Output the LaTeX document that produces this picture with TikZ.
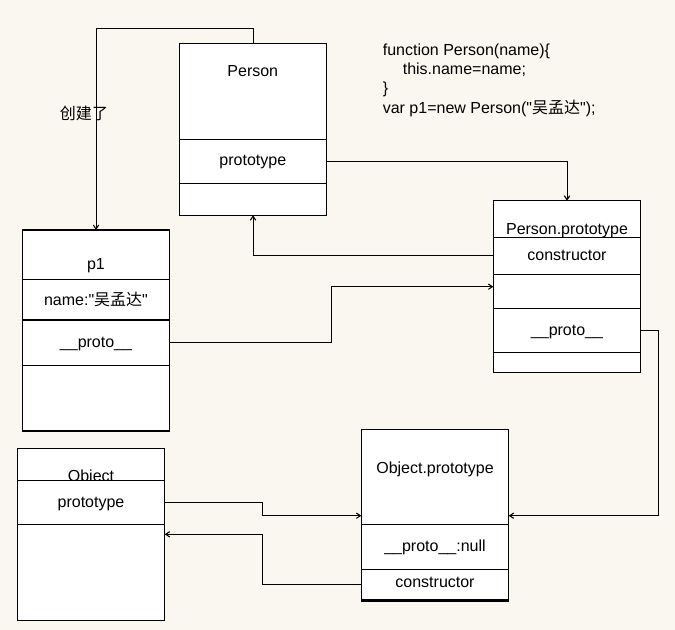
\documentclass[tikz,border=0pt]{standalone}
\usepackage{fontspec}
\setmainfont{Liberation Sans}
\newfontfamily\cjk{Noto Sans CJK SC}
\usetikzlibrary{positioning, calc, arrows.meta}
\definecolor{paper}{RGB}{250,247,240}

\begin{document}
\begin{tikzpicture}[x=0.75pt, y=-0.75pt, line width=0.8pt,
    cell/.style={draw, fill=white, anchor=north west, inner sep=0pt, outer sep=0pt, minimum width=110.6pt},
    rowh/.style={minimum height=#1*0.75pt},
    txt/.style={inner sep=0pt, anchor=base, font=\fontsize{12}{14}\selectfont},
    link/.style={-{Straight Barb[length=3pt,width=4pt]}}]

    % Paper
    \fill[paper] (0,0) rectangle (675,630);

    % Person box
    \node[cell, rowh=96] (personHead) at (179.3,43.3) {};
    \node[txt] (personName) at (252.8,76.7) {Person};
    \node[cell, rowh=44] (personProto) at (179.3,139.3) {};
    \node[txt] (personProtoTxt) at (252.8,165.7) {prototype};
    \node[cell, rowh=32] (personFoot) at (179.3,183.3) {};

    % p1 box
    \node[cell, rowh=49.3] (p1Head) at (22.3,230) {};
    \node[txt] (p1Name) at (96,270) {p1};
    \node[cell, rowh=40.7] (p1Field) at (22.3,279.3) {};
    \node[txt] (p1FieldTxt) at (96,306) {name:\textquotedbl{\cjk 吴孟达}\textquotedbl};
    \node[cell, rowh=45.3] (p1Proto) at (22.3,320) {};
    \node[txt] (p1ProtoTxt) at (96,347.7) {\_\_proto\_\_};
    \node[cell, rowh=65.7] (p1Foot) at (22.3,365.3) {};

    % Person.prototype box
    \node[cell, rowh=36.6] (ppHead) at (493.3,200.7) {};
    \node[txt] (ppName) at (567,234.3) {Person.prototype};
    \node[cell, rowh=37] (ppCtor) at (493.3,237.3) {};
    \node[txt] (ppCtorTxt) at (567,261) {constructor};
    \node[cell, rowh=34] (ppBlank) at (493.3,274.3) {};
    \node[cell, rowh=44.4] (ppProto) at (493.3,308.3) {};
    \node[txt] (ppProtoTxt) at (567,335.3) {\_\_proto\_\_};
    \node[cell, rowh=19.6] (ppFoot) at (493.3,352.7) {};

    % Object box
    \node[cell, rowh=32] (objHead) at (17.3,448.7) {};
    \node[txt] (objName) at (91,482) {Object};
    \node[cell, rowh=43.6] (objProto) at (17.3,480.7) {};
    \node[txt] (objProtoTxt) at (91,507.3) {prototype};
    \node[cell, rowh=96] (objFoot) at (17.3,524.3) {};

    % Object.prototype box
    \node[cell, rowh=95] (opHead) at (361.3,429.3) {};
    \node[txt] (opName) at (435,473.3) {Object.prototype};
    \node[cell, rowh=45] (opProto) at (361.3,524.3) {};
    \node[txt] (opProtoTxt) at (435,552) {\_\_proto\_\_:null};
    \node[cell, rowh=30] (opCtor) at (361.3,569.3) {};
    \node[txt] (opCtorTxt) at (435,587.7) {constructor};
    \node[cell, rowh=1.7] (opFoot) at (361.3,599.3) {};

    % Source code
    \node[txt, anchor=base west] (code1) at (382.3,56) {function Person(name)\{};
    \node[txt, anchor=base west] (code2) at (402.3,74.7) {this.name=name;};
    \node[txt, anchor=base west] (code3) at (382.3,93.3) {\}};
    \node[txt, anchor=base west] (code4) at (382.3,113.3) {var p1=new Person(\textquotedbl{\cjk 吴孟达}\textquotedbl);};

    % Label of the creation link
    \node[txt, anchor=center] (created) at (84,113) {\cjk 创建了};

    % Bend points
    \coordinate (bendA) at (331.7,286.7);
    \coordinate (bendB) at (262.7,515.7);
    \coordinate (bendC) at (262.7,534.3);

    % Links
    \draw[link] (personHead.north) -- ++(0,-15) -| (p1Head.north);
    \draw[link] (personProto.east) -| (ppHead.north);
    \draw[link] (ppCtor.west) -| (personFoot.south);
    \draw[link] (p1Proto.east) -| (bendA) -- (bendA -| ppBlank.west);
    \draw[link] (ppProto.east) -- ++(17.6,0) |- (opHead.east |- bendB);
    \draw[link] (objProto.east) -| (bendB) -- (bendB -| opHead.west);
    \draw[link] (opCtor.west) -| (bendC) -- (bendC -| objFoot.east);

\end{tikzpicture}
\end{document}
